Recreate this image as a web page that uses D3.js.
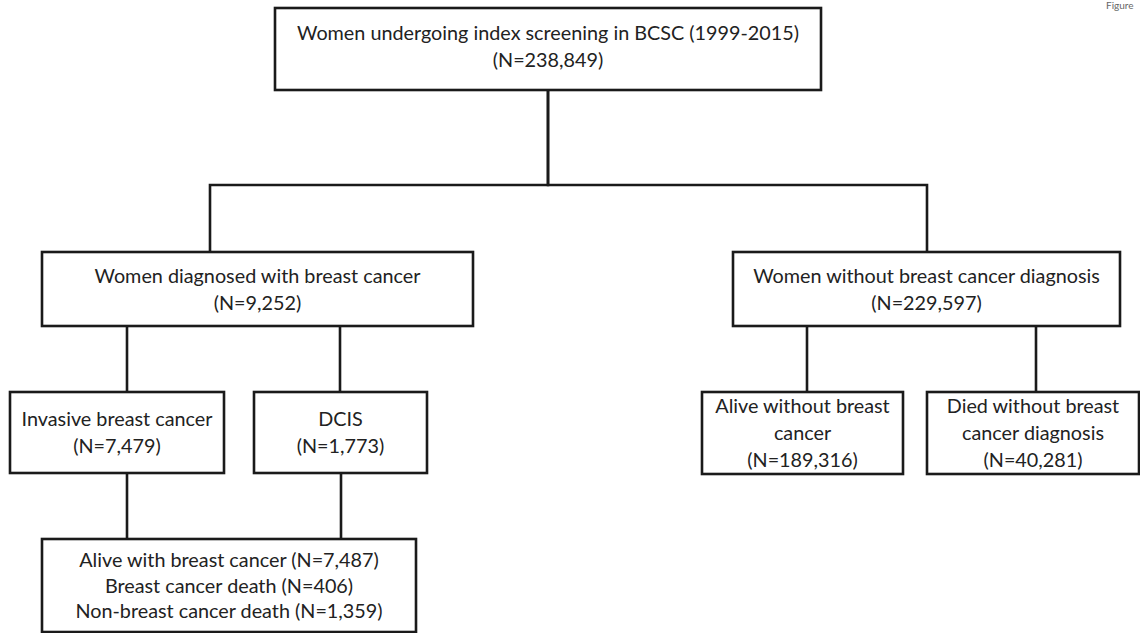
<!DOCTYPE html>
<html>
<head>
<meta charset="utf-8">
<script src="https://cdn.jsdelivr.net/npm/d3@7"></script>
<style>
  html, body { margin: 0; padding: 0; background: #fff; }
  svg { display: block; }
  .box { fill: #fff; stroke: #1a1a1a; stroke-width: 2.6; }
  .link { fill: none; stroke: #1a1a1a; stroke-width: 2.6; }
  .label { font-family: Lato, "Open Sans", sans-serif; font-size: 19.8px; fill: #222; text-anchor: middle; }
</style>
</head>
<body>
<div id="chart"></div>
<script>
// flowchart content
const nodeIds = ["all", "cancer", "noCancer", "invasive", "dcis", "aliveNo", "diedNo", "outcomes"];
const nodeLabels = [
  ["Women undergoing index screening in BCSC (1999-2015)"],
  ["Women diagnosed with breast cancer"],
  ["Women without breast cancer diagnosis"],
  ["Invasive breast cancer"],
  ["DCIS"],
  ["Alive without breast", "cancer"],
  ["Died without breast", "cancer diagnosis"],
  null
];
const nodeCounts = [238849, 9252, 229597, 7479, 1773, 189316, 40281, null];
const outcomeLabels = ["Alive with breast cancer", "Breast cancer death", "Non-breast cancer death"];
const outcomeCounts = [7487, 406, 1359];
const links = [
  ["all", "cancer"], ["all", "noCancer"],
  ["cancer", "invasive"], ["cancer", "dcis"],
  ["noCancer", "aliveNo"], ["noCancer", "diedNo"],
  ["invasive", "outcomes"], ["dcis", "outcomes"]
];

// layout of the drawing (pixels)
const layout = {
  all:      { x0: 275, x1: 821,  y0: 8,   y1: 90,  out: 548 },
  cancer:   { x0: 42,  x1: 473,  y0: 252, y1: 326, in: 210 },
  noCancer: { x0: 733, x1: 1120, y0: 252, y1: 326, in: 927 },
  invasive: { x0: 10,  x1: 224,  y0: 392, y1: 473, in: 127, out: 127 },
  dcis:     { x0: 254, x1: 427,  y0: 392, y1: 473, in: 340, out: 341 },
  aliveNo:  { x0: 702, x1: 903,  y0: 392, y1: 474, in: 807 },
  diedNo:   { x0: 927, x1: 1139, y0: 392, y1: 474, in: 1036 },
  outcomes: { x0: 42,  x1: 416,  y0: 539, y1: 632 }
};
const branchY = 185;

const width = 1140, height = 633;
const fmt = d3.format(",");

const nodes = nodeIds.map((id, i) => {
  let lines;
  if (id === "outcomes") {
    lines = outcomeLabels.map((l, j) => `${l} (N=${fmt(outcomeCounts[j])})`);
  } else {
    lines = nodeLabels[i].concat([`(N=${fmt(nodeCounts[i])})`]);
  }
  return Object.assign({ id, lines }, layout[id]);
});
const byId = new Map(nodes.map(d => [d.id, d]));

const svg = d3.select("#chart")
  .append("svg")
  .attr("width", width)
  .attr("height", height);

const line = d3.line();

function linkPoints(s, t) {
  // straight drop unless the parent has its own exit point
  const tx = t.in !== undefined ? t.in : s.out;
  const sx = s.out !== undefined ? s.out : tx;
  const sy = s.y1, ty = t.y0;
  if (sx === tx) return [[sx, sy], [tx, ty]];
  return [[sx, sy], [sx, branchY], [tx, branchY], [tx, ty]];
}

svg.selectAll(".link")
  .data(links)
  .enter().append("path")
  .attr("class", "link")
  .attr("d", ([a, b]) => line(linkPoints(byId.get(a), byId.get(b))));

const node = svg.selectAll(".node")
  .data(nodes)
  .enter().append("g")
  .attr("class", "node");

node.append("rect")
  .attr("class", "box")
  .attr("x", d => d.x0)
  .attr("y", d => d.y0)
  .attr("width", d => d.x1 - d.x0)
  .attr("height", d => d.y1 - d.y0);

node.each(function(d) {
  const lh = d.id === "outcomes" ? 25.5 : 27;
  const cy = (d.y0 + d.y1) / 2 + (d.id === "all" ? -3 : 0);
  const n = d.lines.length;
  d3.select(this).selectAll("text")
    .data(d.lines)
    .enter().append("text")
    .attr("class", "label")
    .attr("x", (d.x0 + d.x1) / 2)
    .attr("y", (t, i) => cy + (i - (n - 1) / 2) * lh + 7)
    .text(t => t);
});

// caption fragment at the top right corner
svg.append("text")
  .attr("x", 1106)
  .attr("y", 9)
  .style("font-family", "Lato, sans-serif")
  .style("font-size", "10px")
  .style("fill", "#666")
  .text("Figure");
</script>
</body>
</html>
